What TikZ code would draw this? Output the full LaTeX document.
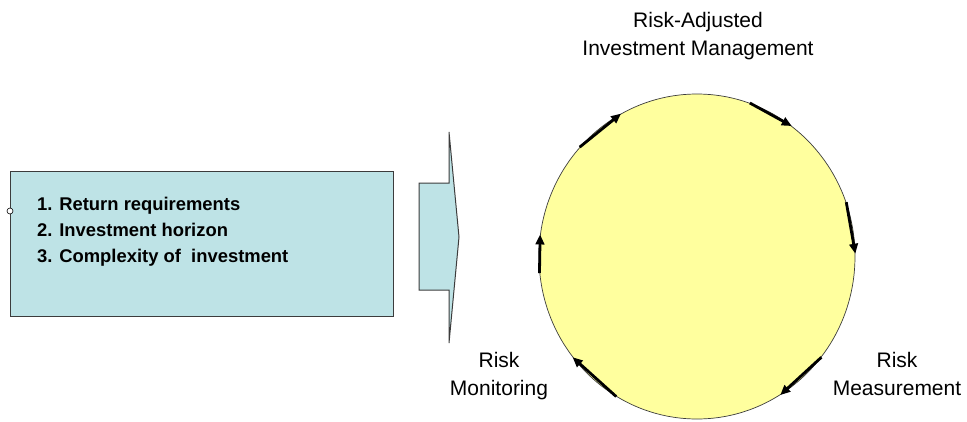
\documentclass[tikz,border=0pt]{standalone}
\usepackage{fontspec}
\setmainfont{Liberation Sans}
\usetikzlibrary{shapes.geometric,arrows.meta}
\definecolor{boxblue}{RGB}{190,227,230}
\definecolor{cycleyellow}{RGB}{255,255,158}
\definecolor{edgegray}{RGB}{60,60,60}
\tikzset{
  listbox/.style={draw=edgegray, line width=0.9pt, fill=boxblue},
  cyclearrow/.style={line width=2.8pt, -{Triangle[length=10pt,width=8.5pt]}},
  label/.style={inner sep=0pt, align=center, font=\fontsize{21}{28}\selectfont},
}
\begin{document}
\begin{tikzpicture}[x=1pt,y=-1pt]
  \useasboundingbox (0,0) rectangle (967,421);

  % requirements box
  \draw[listbox] (10,171) rectangle (393,316);
  \node[anchor=north west, inner sep=0pt, align=left,
        font=\fontsize{18.4}{26}\selectfont\bfseries] (list) at (37,197)
    {1. Return requirements\\2. Investment horizon\\3. Complexity of ~investment};
  \node[circle, draw=black, fill=white, inner sep=0pt, minimum size=6pt,
        line width=0.6pt] (port) at (10,211) {};

  % block arrow feeding the cycle
  \draw[fill=boxblue, draw=edgegray, line width=1pt, line join=miter]
    (419,183) -- (449,183) -- (449,132) -- (459,237) -- (449,343)
    -- (449,290) -- (419,290) -- cycle;

  % the management cycle
  \node[ellipse, draw=edgegray, line width=0.7pt, fill=cycleyellow,
        minimum width=316pt, minimum height=325pt, inner sep=0pt] (cyc) at (697,256.5) {};

  \draw[cyclearrow] (cyc.137) -- (cyc.118);
  \draw[cyclearrow] (cyc.71) -- (cyc.54);
  \draw[cyclearrow] (cyc.20) -- (cyc.1);
  \draw[cyclearrow] (cyc.-39) -- (cyc.-59);
  \draw[cyclearrow] (cyc.-120) -- (cyc.-141);
  \draw[cyclearrow] (cyc.-174) -- (cyc.172);

  % stage labels
  \node[label, anchor=north] (ram) at (698,12) {Risk-Adjusted\\Investment Management};
  \node[label, anchor=north] (rmo) at (499,352) {Risk\\Monitoring};
  \node[label, anchor=north] (rme) at (897,352) {Risk\\Measurement};
\end{tikzpicture}
\end{document}
